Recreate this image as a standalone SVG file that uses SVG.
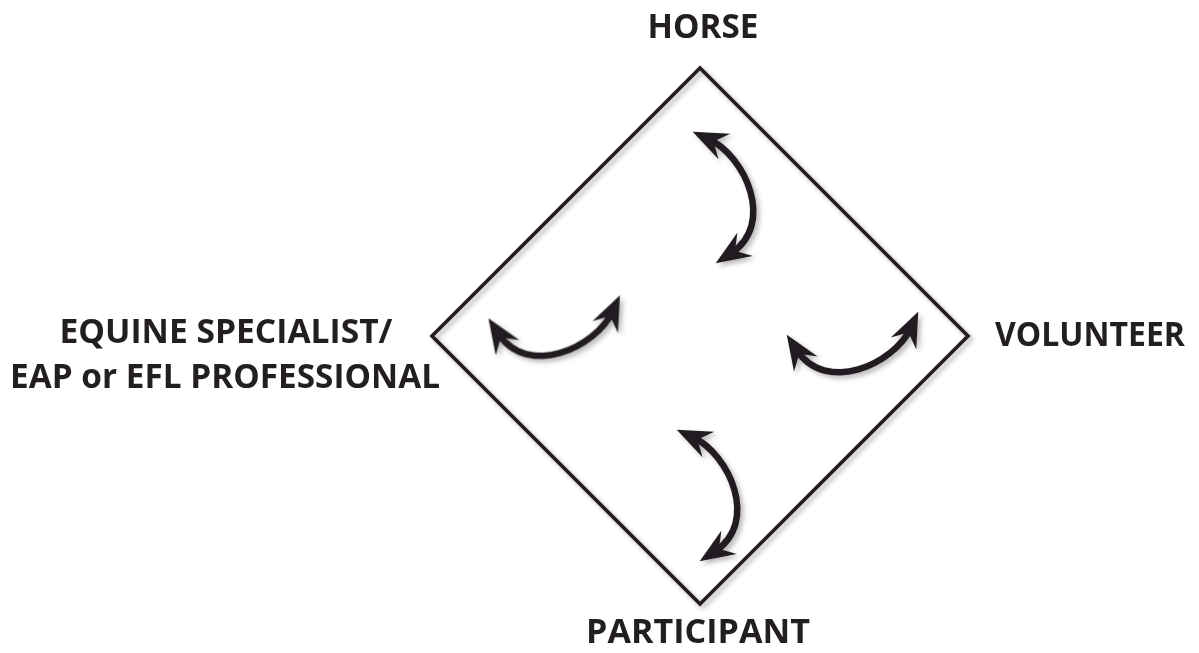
<svg xmlns="http://www.w3.org/2000/svg" width="1199" height="653" viewBox="0 0 1199 653">
  <style>
    .lbl { font-family: "Open Sans", "Liberation Sans", sans-serif; font-weight: 700; font-size: 34px; fill: #231f20; text-anchor: middle; }
    .frame { fill: none; stroke: #231f20; stroke-width: 3.6; stroke-linejoin: miter; }
    .shaft { fill: none; stroke: #231f20; stroke-width: 6.5; stroke-linecap: butt; }
    .hd { fill: #231f20; stroke: none; }
  </style>
  <defs>
    <filter id="sh" x="-30%" y="-30%" width="160%" height="160%">
      <feDropShadow dx="3" dy="3" stdDeviation="2.5" flood-color="#000" flood-opacity="0.28"/>
    </filter>
  </defs>
  <rect width="1199" height="653" fill="#ffffff"/>

  <g id="frame" filter="url(#sh)">
    <polygon class="frame" points="700,68 968,336 700,604 432,336"/>
  </g>

  <g id="connectors" filter="url(#sh)">
    <g id="arrow-top">
      <path class="shaft" d="M709,139.3 C745,156 776,224 730.8,253.5"/>
      <path class="hd" d="M0,0 L-35,-14 L-23,0 L-35,14 Z" transform="translate(692.7,131.7) rotate(205)"/>
      <path class="hd" d="M0,0 L-35,-14 L-23,0 L-35,14 Z" transform="translate(715.7,263.3) rotate(147)"/>
    </g>
    <g id="arrow-bottom" transform="translate(-16,298)">
      <path class="shaft" d="M709,139.3 C745,156 776,224 730.8,253.5"/>
      <path class="hd" d="M0,0 L-35,-14 L-23,0 L-35,14 Z" transform="translate(692.7,131.7) rotate(205)"/>
      <path class="hd" d="M0,0 L-35,-14 L-23,0 L-35,14 Z" transform="translate(715.7,263.3) rotate(147)"/>
    </g>
    <g id="arrow-left" transform="translate(620,295.3) rotate(90) translate(-692.7,-131.7)">
      <path class="shaft" d="M709,139.3 C745,156 776,224 730.8,253.5"/>
      <path class="hd" d="M0,0 L-35,-14 L-23,0 L-35,14 Z" transform="translate(692.7,131.7) rotate(205)"/>
      <path class="hd" d="M0,0 L-35,-14 L-23,0 L-35,14 Z" transform="translate(715.7,263.3) rotate(147)"/>
    </g>
    <g id="arrow-right" transform="translate(918.3,311.7) rotate(90) translate(-692.7,-131.7)">
      <path class="shaft" d="M709,139.3 C745,156 776,224 730.8,253.5"/>
      <path class="hd" d="M0,0 L-35,-14 L-23,0 L-35,14 Z" transform="translate(692.7,131.7) rotate(205)"/>
      <path class="hd" d="M0,0 L-35,-14 L-23,0 L-35,14 Z" transform="translate(715.7,263.3) rotate(147)"/>
    </g>
  </g>

  <g id="node-horse"><text class="lbl" x="703" y="38" textLength="111" lengthAdjust="spacingAndGlyphs">HORSE</text></g>
  <g id="node-specialist">
    <text class="lbl" x="226" y="343" textLength="333" lengthAdjust="spacingAndGlyphs">EQUINE SPECIALIST/</text>
    <text class="lbl" x="225" y="388" textLength="430" lengthAdjust="spacingAndGlyphs">EAP or EFL PROFESSIONAL</text>
  </g>
  <g id="node-volunteer"><text class="lbl" x="1090" y="346" textLength="190" lengthAdjust="spacingAndGlyphs">VOLUNTEER</text></g>
  <g id="node-participant"><text class="lbl" x="698" y="643" textLength="224" lengthAdjust="spacingAndGlyphs">PARTICIPANT</text></g>
</svg>
